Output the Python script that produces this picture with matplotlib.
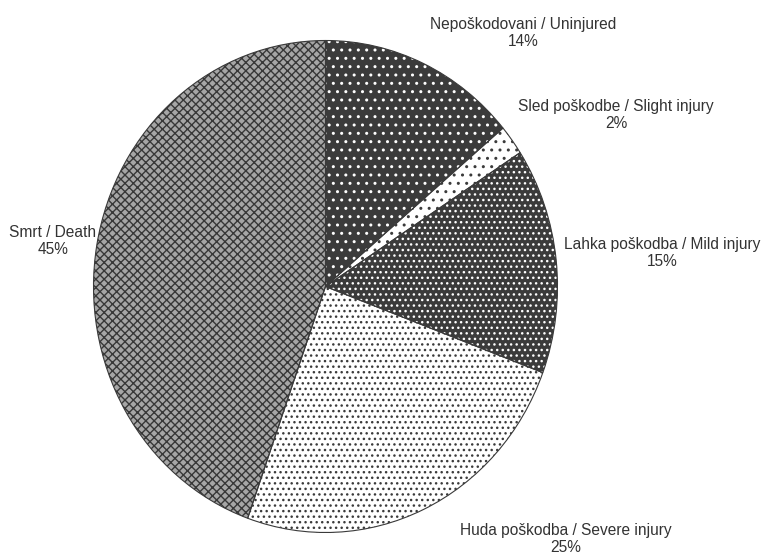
import matplotlib
matplotlib.use("Agg")
import matplotlib.pyplot as plt

plt.rcParams['font.family'] = ['Liberation Sans', 'DejaVu Sans']
plt.rcParams['hatch.linewidth'] = 1.0

# Outcome categories (clockwise from 12 o'clock) and their shares in percent
categories = [
    "Nepoškodovani / Uninjured",
    "Sled poškodbe / Slight injury",
    "Lahka poškodba / Mild injury",
    "Huda poškodba / Severe injury",
    "Smrt / Death",
]
shares = [14, 2, 15, 25, 45]

# Fill styles per slice: background, hatch colour, hatch pattern
faces = ['#3b3b3b', 'white', '#3b3b3b', 'white', '#a6a6a6']
hatch_colors = ['white', '#3b3b3b', 'white', '#3b3b3b', '#383838']
hatches = ['..', '..', '...', '...', 'xxxx']

# Label block centres in pixels (x from left, y from top)
label_pos = [(523, 33), (616, 115), (662, 253), (566, 539), (53, 241)]

W, H = 764, 555
fig = plt.figure(figsize=(W / 100, H / 100), dpi=100)
fig.patch.set_facecolor('white')

# Pie occupies a slightly tall ellipse
cx, cy, rx, ry = 325.5, 286.5, 232, 246
ax = fig.add_axes([(cx - rx) / W, (H - cy - ry) / H, 2 * rx / W, 2 * ry / H])

wedges, _ = ax.pie(shares, startangle=90, counterclock=False,
                   wedgeprops=dict(linewidth=0))
for w, fc, hc, h in zip(wedges, faces, hatch_colors, hatches):
    w.set_facecolor(fc)
    w.set_edgecolor(hc)
    w.set_hatch(h)
    w.set_linewidth(0)

# Thin outlines on top of the patterned fills
ax.pie(shares, startangle=90, counterclock=False,
       wedgeprops=dict(fill=False, edgecolor='#3a3a3a', linewidth=0.8))

ax.set_aspect('auto')
ax.set_xlim(-1, 1)
ax.set_ylim(-1, 1)
ax.axis('off')

for cat, val, (px, py) in zip(categories, shares, label_pos):
    fig.text(px / W, 1 - py / H, f"{cat}\n{val}%", ha='center', va='center',
             multialignment='center', fontsize=11.2, color='#333333',
             linespacing=1.22)

fig.savefig('out.png', dpi=100, facecolor='white')
